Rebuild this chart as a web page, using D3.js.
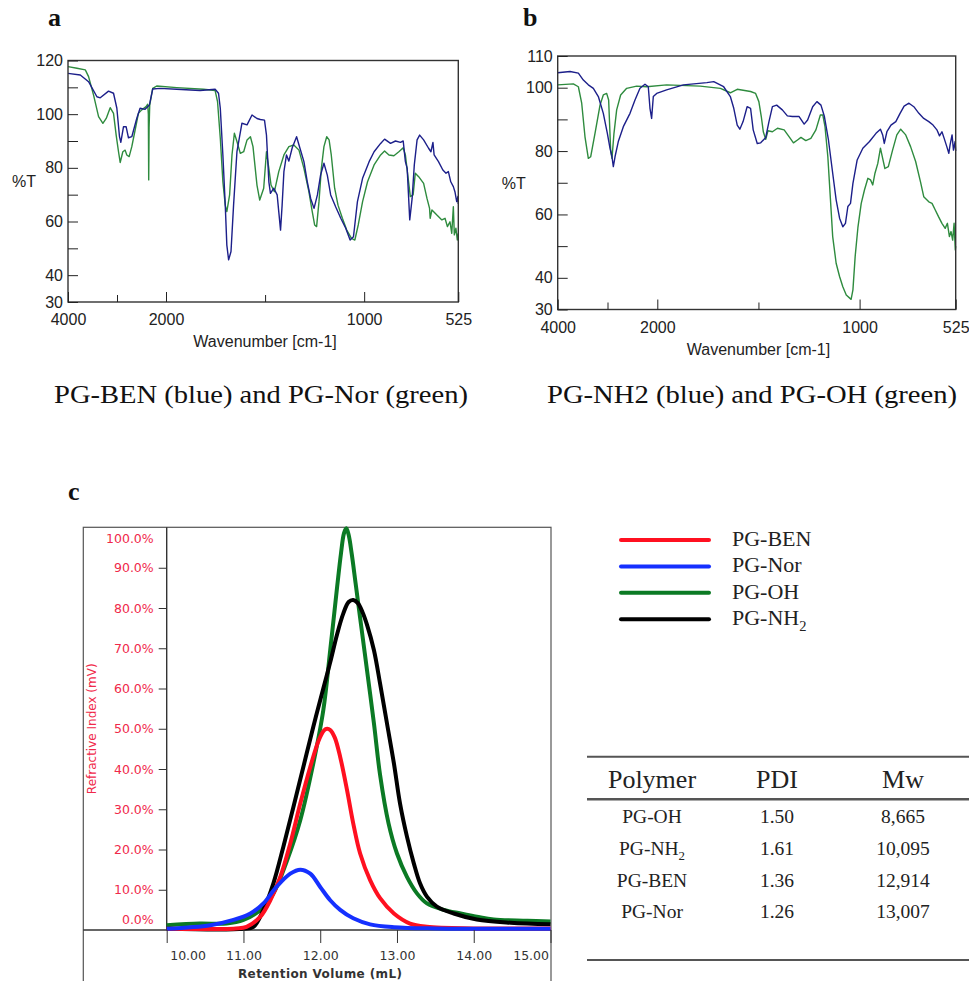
<!DOCTYPE html>
<html>
<head>
<meta charset="utf-8">
<script src="https://cdn.jsdelivr.net/npm/d3@7"></script>
<style>
  body { margin: 0; background: #fff; }
</style>
</head>
<body>
<svg id="fig" width="969" height="981"></svg>
<script>
// ---- FTIR spectra, [wavenumber cm-1, %T] ----
const benIR = [[4000,115.2],[3749,114.6],[3580,112.1],[3410,106.5],[3342,106.1],[3173,108.6],[3071,107.8],[3003,102.2],[2949,91.6],[2922,89.5],[2868,95.3],[2813,95.3],[2766,91.2],[2698,91.6],[2597,98.4],[2529,102.2],[2427,101.8],[2339,103.4],[2271,109.4],[2122,109.6],[1946,109.3],[1828,108.8],[1752,109.3],[1735,107.8],[1726,102.2],[1713,84.8],[1701,66.1],[1693,51.2],[1684,45.7],[1672,48.8],[1659,66.1],[1642,86],[1617,96.6],[1591,96],[1566,99.7],[1541,98.4],[1524,98],[1503,97.8],[1493,92.2],[1481,74.8],[1473,70.5],[1456,72.4],[1439,69.9],[1431,63.7],[1422,56.8],[1414,66.1],[1405,78.6],[1392,84.8],[1380,82.5],[1363,87.5],[1341,91.6],[1324,87.3],[1304,82.3],[1287,74.8],[1270,68.6],[1253,64.9],[1236,69.9],[1220,77.3],[1203,81.7],[1186,77.3],[1169,69.9],[1144,65.5],[1118,61.2],[1093,57.5],[1071,53.1],[1054,54.3],[1034,67.4],[1008,76.1],[975,82.3],[950,86],[917,89.1],[897,90.7],[867,89.1],[842,90],[817,89.5],[803,90],[792,82.3],[783,79.8],[770,60.6],[758,68.6],[747,81.1],[733,90.4],[720,92.2],[700,90.4],[675,87.3],[663,86],[653,89.5],[647,84.8],[625,82.3],[603,79.2],[587,78],[575,78.6],[563,74.8],[550,73],[542,71.1],[533,67.4],[527,69.3],[525,66.5]];

const norIR = [[4000,117.7],[3817,117.1],[3647,116.5],[3580,114],[3478,107.1],[3376,99.1],[3288,96.6],[3220,98.4],[3139,102.4],[3071,100.3],[3017,92.2],[2969,86],[2935,82],[2881,86],[2834,86.6],[2800,84.8],[2752,84.2],[2698,87.9],[2630,94.1],[2563,100.3],[2495,101.6],[2407,102.8],[2373,103.7],[2360,100],[2353,75.5],[2345,95],[2332,103.4],[2271,109.6],[2190,110.5],[1946,109.9],[1811,109.3],[1752,108.8],[1740,104.7],[1726,91],[1713,74.8],[1701,66.1],[1693,63.7],[1679,69.9],[1667,84.8],[1655,92.9],[1642,89.8],[1625,85.4],[1608,86],[1591,90.4],[1574,91.6],[1561,87.9],[1541,73.6],[1527,68],[1507,72.4],[1493,86],[1481,79.8],[1470,73.6],[1453,71.1],[1431,78.6],[1405,84.8],[1380,87.9],[1355,88.5],[1329,86.6],[1304,79.8],[1279,71.1],[1262,63.7],[1250,58.7],[1240,58.1],[1228,67.4],[1216,79.8],[1203,87.9],[1189,91.6],[1177,90.4],[1166,84.8],[1149,72.4],[1132,66.1],[1110,61.2],[1088,56.8],[1064,53.7],[1047,53.1],[1030,58.7],[1008,67.4],[983,74.8],[950,81.1],[917,84.8],[897,86.3],[875,84.8],[850,84.5],[825,86],[803,87.5],[792,84.8],[780,77.3],[767,69.3],[753,69.9],[742,78],[725,76.7],[700,74.2],[683,68.6],[670,64.9],[667,61.2],[658,64.3],[633,62.4],[608,60.6],[592,61.2],[580,58.1],[567,59.9],[558,55.6],[550,65.5],[545,55],[537,57.5],[530,53.1],[525,55.6]];

const nh2IR = [[4000,104.7],[3752,105.1],[3585,104.6],[3485,102.4],[3385,100.9],[3284,99.8],[3184,97.2],[3084,91.9],[3003,85.6],[2950,80.9],[2910,78.2],[2883,75.1],[2849,78.2],[2783,83],[2682,87.7],[2548,91.9],[2448,96.1],[2348,99.8],[2247,101.1],[2181,100.3],[2147,93.5],[2114,90.3],[2080,97.2],[2013,98.2],[1954,99.3],[1871,100.9],[1755,101.6],[1721,101.9],[1672,100.3],[1639,97.2],[1622,93.5],[1605,88.2],[1592,86.9],[1576,89.3],[1556,94],[1539,93.5],[1526,86.7],[1506,82.4],[1489,82.6],[1464,84.3],[1448,89.3],[1431,94],[1410,94.5],[1382,93],[1357,91.1],[1332,90.9],[1299,90.9],[1274,88.5],[1257,89.8],[1232,94],[1211,95.6],[1191,94.5],[1174,90.9],[1154,83.5],[1133,73],[1116,64.6],[1099,58.8],[1083,56.1],[1070,57.2],[1058,62.5],[1045,63.5],[1033,69.8],[1012,77.2],[984,80.9],[951,83],[919,85.6],[897,86.9],[886,85.1],[878,82.4],[865,86.1],[845,88.2],[821,89.3],[800,91.9],[780,94.2],[756,95.1],[732,94],[707,91.9],[683,90.3],[658,89.3],[637,88.2],[618,86.7],[605,84.8],[593,86.1],[582,84],[569,81.4],[559,79.3],[553,81.9],[543,85.1],[536,80.3],[528,83],[525,80]];

const ohIR = [[4000,100.9],[3686,101.2],[3585,100.3],[3518,95.1],[3452,84.5],[3385,77.7],[3338,78.2],[3251,85.6],[3150,94.5],[3084,97.7],[3017,98.2],[2977,96.1],[2937,80.3],[2910,77.7],[2870,85.6],[2816,93],[2736,97.7],[2615,99.8],[2415,100.5],[2214,100.3],[1954,100.9],[1788,100.5],[1688,99.8],[1639,98.4],[1605,99.5],[1539,98.8],[1514,98.2],[1498,95.6],[1486,90.9],[1476,86.1],[1464,83.7],[1453,86.4],[1431,86.1],[1406,87.2],[1373,86.7],[1348,84.5],[1327,82.6],[1307,83.5],[1290,84.3],[1266,83.3],[1241,84],[1216,86.7],[1194,91.4],[1182,91.4],[1171,87.7],[1157,78.2],[1144,64.6],[1133,53],[1116,44.6],[1099,40.4],[1083,37.2],[1066,34.6],[1042,33.2],[1033,36.2],[1022,46.7],[1008,56.1],[992,63.5],[976,67.7],[959,71.4],[946,70.9],[935,69.3],[924,73],[910,76.1],[897,80.9],[886,77.7],[875,74.5],[858,75.1],[837,80.3],[816,85.1],[797,86.9],[772,85.1],[748,81.4],[723,76.7],[699,70.3],[683,65.6],[658,64],[642,63.5],[626,61.4],[610,59.3],[593,57.2],[577,55.6],[566,57.2],[556,53],[548,54.6],[540,51.9],[533,57.2],[527,48.8],[525,50]];

const irBreaks = [4000, 2000, 525];          // the axis is compressed above 2000
const irMajorTicks = [4000, 2000, 1000, 525];
const irMinorTicks = [3000, 1500];
const irYTicksA = [30, 40, 50, 60, 70, 80, 90, 100, 110, 120];
const irYLabelsA = [30, 40, 60, 80, 100, 120];
const irYTicksB = [30, 40, 50, 60, 70, 80, 90, 100, 110];
const irYLabelsB = [30, 40, 60, 80, 100, 110];

// ---- GPC traces, [retention volume mL, % RI] ----
const gpcBEN = [[10.0,0.3],[10.9,0.4],[11.04,0.8],[11.22,3.3],[11.35,7.4],[11.48,13.2],[11.61,21.5],[11.74,31.4],[11.87,40.5],[11.98,47.1],[12.05,49.6],[12.09,50],[12.13,49.7],[12.19,47.8],[12.26,43],[12.35,34.7],[12.43,26.5],[12.52,19],[12.65,12.4],[12.78,7.9],[12.96,4.1],[13.17,1.6],[13.39,0.8],[14.0,0.4],[15.0,0.4]];
const gpcNor = [[10.0,0.3],[10.57,1.2],[10.87,2.5],[11.09,4.1],[11.26,6.6],[11.43,10.7],[11.61,14],[11.74,15],[11.87,14],[12.0,10.7],[12.13,7.4],[12.26,5],[12.43,2.9],[12.65,1.4],[12.96,0.7],[13.5,0.4],[15.0,0.3]];
const gpcOH = [[10.0,1.2],[10.43,1.6],[10.78,1.6],[11.0,2.5],[11.22,5],[11.39,9.1],[11.57,17.4],[11.74,27.3],[11.91,41.4],[12.04,54.6],[12.13,69.5],[12.22,85.2],[12.27,93.5],[12.31,98.6],[12.34,99.8],[12.37,98.2],[12.41,93.5],[12.46,86.3],[12.52,77.5],[12.61,64.5],[12.70,51.3],[12.78,38.5],[12.89,26.5],[13.0,19],[13.13,13.2],[13.26,9.1],[13.39,6.6],[13.61,5],[13.83,4.1],[14.04,3.3],[14.26,2.6],[14.7,2.3],[15.0,2.1]];
const gpcNH2 = [[10.0,0.3],[11.0,0.3],[11.13,0.8],[11.26,5],[11.39,11.6],[11.52,20.7],[11.65,30.5],[11.78,40.5],[11.91,50.5],[12.04,60],[12.13,66.5],[12.22,73.5],[12.30,78.6],[12.37,81.5],[12.43,82],[12.49,81.2],[12.55,79],[12.61,75.8],[12.70,69.5],[12.78,61.2],[12.87,51.3],[12.96,41.4],[13.04,31.4],[13.13,23.2],[13.22,16.5],[13.30,11.6],[13.39,8.3],[13.52,5.8],[13.74,4.1],[14.04,2.6],[14.48,1.8],[15.0,1.4]];
const gpcXTicks = [10, 11, 12, 13, 14, 15];
const gpcYTicks = [0, 10, 20, 30, 40, 50, 60, 70, 80, 90, 100];
const legendNames = ["PG-BEN", "PG-Nor", "PG-OH", "PG-NH2"];

// ---- table ----
const tableHead = ["Polymer", "PDI", "Mw"];
const tablePolymer = ["PG-OH", "PG-NH2", "PG-BEN", "PG-Nor"];
const tablePDI = ["1.50", "1.61", "1.36", "1.26"];
const tableMw = ["8,665", "10,095", "12,914", "13,007"];

const IR_BLUE = "#1c1f8a", IR_GREEN = "#2e8b3e";
const gpcColor = { "PG-BEN": "#ff1020", "PG-Nor": "#1530ff", "PG-OH": "#0b7a24", "PG-NH2": "#000" };
const gpcData = { "PG-BEN": gpcBEN, "PG-Nor": gpcNor, "PG-OH": gpcOH, "PG-NH2": gpcNH2 };

const IR_FONT = "'Liberation Sans',Arial,sans-serif";
const SERIF = "'Liberation Serif','Times New Roman',serif";
const GPC_FONT = "'DejaVu Sans',Verdana,sans-serif";

const svg = d3.select("#fig");

// writes "PG-NH2" with a subscript 2
function chemLabel(sel, label, size) {
  if (label.endsWith("NH2")) {
    sel.text(label.slice(0, -1));
    sel.append("tspan").attr("font-size", size * 0.66).attr("dy", size * 0.28).text("2");
  } else sel.text(label);
}

function drawIR(p) {
  const x = d3.scaleLinear().domain(irBreaks).range([p.left, p.mid, p.right]);
  const y = d3.scaleLinear().domain(p.yDomain).range([p.bottom, p.top]);
  const g = svg.append("g");

  const line = d3.line().x(d => x(d[0])).y(d => y(d[1]));
  p.series.forEach(s => {
    g.append("path").datum(s.values)
      .attr("fill", "none").attr("stroke", s.color)
      .attr("stroke-width", 1.4).attr("stroke-linejoin", "round")
      .attr("d", line);
  });

  g.append("rect")
    .attr("x", p.left).attr("y", p.top)
    .attr("width", p.right - p.left).attr("height", p.bottom - p.top)
    .attr("fill", "none").attr("stroke", "#333").attr("stroke-width", 1.4);

  const styleAxis = a => a.attr("font-family", IR_FONT).attr("font-size", 16)
    .attr("color", "#222").call(s => s.select(".domain").remove());

  g.append("g").attr("transform", `translate(${p.left},0)`)
    .call(d3.axisLeft(y).tickValues(p.yTicks).tickSize(-10).tickPadding(5)
      .tickFormat(d => p.yLabels.includes(d) ? d : ""))
    .call(styleAxis);

  g.append("g").attr("transform", `translate(0,${p.bottom})`)
    .call(d3.axisBottom(x).tickValues(irMajorTicks).tickSize(-10).tickPadding(12)
      .tickFormat(d => String(d)))
    .call(styleAxis);

  g.append("g").attr("transform", `translate(0,${p.bottom})`)
    .call(d3.axisBottom(x).tickValues(irMinorTicks).tickSize(-7).tickFormat(""))
    .call(styleAxis);

  g.append("text").attr("x", p.left - 56).attr("y", (p.top + p.bottom) / 2 + 6)
    .attr("font-family", IR_FONT).attr("font-size", 16).attr("fill", "#222").text("%T");

  g.append("text").attr("x", x(1500)).attr("y", p.bottom + 45)
    .attr("text-anchor", "middle")
    .attr("font-family", IR_FONT).attr("font-size", 16).attr("fill", "#222")
    .text("Wavenumber [cm-1]");

  svg.append("text").attr("x", p.capX).attr("y", 403)
    .attr("text-anchor", "middle").attr("font-family", SERIF).attr("font-size", 26)
    .attr("textLength", p.capW).attr("lengthAdjust", "spacingAndGlyphs")
    .attr("fill", "#111").text(p.caption);

  svg.append("text").attr("x", p.tagX).attr("y", 26)
    .attr("font-family", SERIF).attr("font-weight", "bold").attr("font-size", 26)
    .attr("fill", "#111").text(p.tag);
}

drawIR({
  left: 68, mid: 166, right: 458.3, top: 60.5, bottom: 302,
  yDomain: [30, 120], yTicks: irYTicksA, yLabels: irYLabelsA,
  series: [{ values: norIR, color: IR_GREEN }, { values: benIR, color: IR_BLUE }],
  caption: "PG-BEN (blue) and PG-Nor (green)", capX: 261, capW: 414, tag: "a", tagX: 48
});

drawIR({
  left: 557.7, mid: 657.3, right: 955.7, top: 56, bottom: 309.5,
  yDomain: [30, 110], yTicks: irYTicksB, yLabels: irYLabelsB,
  series: [{ values: ohIR, color: IR_GREEN }, { values: nh2IR, color: IR_BLUE }],
  caption: "PG-NH2 (blue) and PG-OH (green)", capX: 752, capW: 410, tag: "b", tagX: 523
});

// ---- panel c: GPC ----
svg.append("text").attr("x", 68).attr("y", 500)
  .attr("font-family", SERIF).attr("font-weight", "bold").attr("font-size", 26)
  .attr("fill", "#111").text("c");

const cx = d3.scaleLinear().domain([10, 15]).range([166.7, 550.5]);
const cy = d3.scaleLinear().domain([0, 100]).range([930, 527.5]);
const gc = svg.append("g");

gc.append("rect").attr("x", 83.3).attr("y", 527.3).attr("width", 467.7).attr("height", 480)
  .attr("fill", "none").attr("stroke", "#555").attr("stroke-width", 1.2);
gc.append("line").attr("x1", 83.3).attr("x2", 551).attr("y1", cy(0)).attr("y2", cy(0))
  .attr("stroke", "#333").attr("stroke-width", 1.4);
gc.append("line").attr("x1", cx(10)).attr("x2", cx(10)).attr("y1", 527.3).attr("y2", cy(0))
  .attr("stroke", "#333").attr("stroke-width", 1.4);

const gpcLine = d3.line().curve(d3.curveCatmullRom).x(d => cx(d[0])).y(d => cy(d[1]));
["PG-OH", "PG-NH2", "PG-BEN", "PG-Nor"].forEach(name => {
  gc.append("path").datum(gpcData[name])
    .attr("fill", "none").attr("stroke", gpcColor[name])
    .attr("stroke-width", 4).attr("stroke-linejoin", "round")
    .attr("d", gpcLine);
});

const yAx = gc.append("g").attr("transform", `translate(${cx(10)},0)`)
  .call(d3.axisLeft(cy).tickValues(gpcYTicks).tickSize(8).tickPadding(5)
    .tickFormat(d => d.toFixed(1) + "%"))
  .attr("font-family", GPC_FONT).attr("font-size", 12.5).attr("color", "#333")
  .call(s => s.select(".domain").remove());
yAx.selectAll("text").attr("fill", "#f0284a");
yAx.selectAll(".tick").filter(d => d === 0 || d === 100).select("line").remove();
yAx.selectAll(".tick").filter(d => d === 100).select("text").attr("dy", "1.2em");
yAx.selectAll(".tick").filter(d => d === 0).select("text").attr("dy", "-0.5em");

const xAx = gc.append("g").attr("transform", `translate(0,${cy(0)})`)
  .call(d3.axisBottom(cx).tickValues(gpcXTicks).tickSize(13).tickPadding(8)
    .tickFormat(d => d.toFixed(2)))
  .attr("font-family", GPC_FONT).attr("font-size", 12.5).attr("color", "#333")
  .call(s => s.select(".domain").remove());
xAx.selectAll(".tick").filter(d => d === 10).select("text").attr("text-anchor", "start").attr("x", 3);
xAx.selectAll(".tick").filter(d => d === 15).select("text").attr("text-anchor", "end").attr("x", -2);

gc.append("text")
  .attr("transform", `translate(96,${cy(50)}) rotate(-90)`)
  .attr("text-anchor", "middle").attr("font-family", GPC_FONT).attr("font-size", 12)
  .attr("fill", "#f0284a").text("Refractive Index (mV)");

gc.append("text").attr("x", cx(12)).attr("y", 978)
  .attr("text-anchor", "middle").attr("font-family", GPC_FONT).attr("font-size", 12)
  .attr("letter-spacing", 0.4)
  .attr("font-weight", "bold").attr("fill", "#333").text("Retention Volume (mL)");

// legend
const leg = svg.append("g");
legendNames.forEach((name, i) => {
  const yy = 540 + i * 26.4;
  leg.append("line").attr("x1", 621).attr("x2", 709).attr("y1", yy).attr("y2", yy)
    .attr("stroke", gpcColor[name]).attr("stroke-width", 4).attr("stroke-linecap", "round");
  leg.append("text").attr("x", 732).attr("y", yy + 6)
    .attr("font-family", SERIF).attr("font-size", 22).attr("fill", "#222")
    .call(t => chemLabel(t, name, 22));
});

// table
const colX = [652, 777, 903];
const tb = svg.append("g").attr("font-family", SERIF).attr("fill", "#222");
[756.7, 799.3, 960].forEach((yy, i) => {
  tb.append("line").attr("x1", 587).attr("x2", 969).attr("y1", yy).attr("y2", yy)
    .attr("stroke", "#555").attr("stroke-width", i === 1 ? 2.4 : 2);
});
tableHead.forEach((h, i) => {
  tb.append("text").attr("x", colX[i]).attr("y", 788).attr("text-anchor", "middle")
    .attr("font-size", 26).text(h);
});
tablePolymer.forEach((name, r) => {
  const yy = 823.3 + r * 31.7;
  tb.append("text").attr("x", colX[0]).attr("y", yy).attr("text-anchor", "middle")
    .attr("font-size", 19.5).call(t => chemLabel(t, name, 19.5));
  tb.append("text").attr("x", colX[1]).attr("y", yy).attr("text-anchor", "middle")
    .attr("font-size", 19.5).text(tablePDI[r]);
  tb.append("text").attr("x", colX[2]).attr("y", yy).attr("text-anchor", "middle")
    .attr("font-size", 19.5).text(tableMw[r]);
});
</script>
</body>
</html>
